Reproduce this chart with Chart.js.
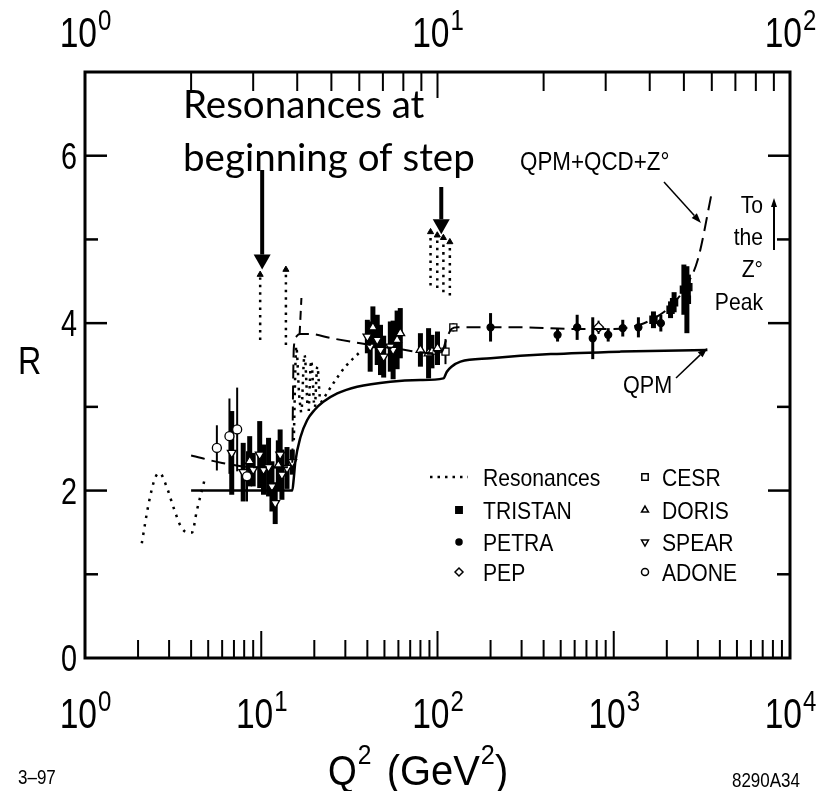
<!DOCTYPE html>
<html lang="en">
<head>
<meta charset="UTF-8">
<title>R ratio versus Q2</title>
<script src="https://cdn.jsdelivr.net/npm/chart.js"></script>
<style>
    html, body { margin: 0; padding: 0; background: #fff; }
    .wrap { position: relative; width: 827px; height: 791px; }
</style>
</head>
<body>
<div class="wrap"><canvas id="rChart"></canvas></div>
<script>
// ---- axis ranges / tick labels ----
const xRange = [1, 10000];          // Q^2 (GeV^2), bottom axis
const topRange = [1, 100];          // sqrt(s) (GeV), top axis
const yRange = [0, 7];
const xTickExp = [0, 1, 2, 3, 4];
const topTickExp = [0, 1, 2];
const yTickLabels = [0, 2, 4, 6];

// ---- curves: Q^2 and R ----
const qpmQ2 = [4, 15, 15.3, 15.6, 16.7, 18.2, 20, 22.5, 27, 35, 54, 80, 108, 113, 120, 135, 200, 440, 1100, 3400];
const qpmR  = [2.0, 2.0, 2.15, 2.34, 2.64, 2.84, 2.96, 3.06, 3.16, 3.24, 3.30, 3.32, 3.34, 3.42, 3.48, 3.54, 3.58, 3.63, 3.66, 3.68];

const qcdQ2 = [4, 6, 9, 14, 15, 15.05, 15.15, 15.3, 15.8, 16.6, 19, 25, 36.5, 60, 95, 106, 112, 120, 130, 300, 600, 1000, 1400, 1700, 2100, 2500, 3000, 3600];
const qcdR  = [2.42, 2.33, 2.28, 2.28, 2.32, 2.6, 3.2, 3.7, 3.84, 3.87, 3.87, 3.82, 3.76, 3.69, 3.64, 3.66, 3.8, 3.93, 3.95, 3.95, 3.93, 3.93, 3.98, 4.06, 4.2, 4.4, 4.76, 5.56];

const charmSpikeQ2 = [16.5, 16.9];
const charmSpikeR  = [3.86, 4.3];

// resonances (dotted)
const lowResQ2 = [2.1, 2.3, 2.5, 2.65, 2.9, 3.2, 3.5, 3.8, 4.05, 4.3, 4.6, 4.8];
const lowResR  = [1.37, 1.85, 2.15, 2.21, 2.05, 1.78, 1.57, 1.5, 1.5, 1.75, 2.0, 2.15];

const charmResQ2 = [
    [15.3, 15.8, 16.4, 16.9],
    [17.0, 17.6, 18.3],
    [18.6, 19.2, 19.9],
    [20.2, 20.8, 21.5],
    [21.8, 26, 30, 36.5]
];
const charmResR = [
    [2.6, 3.72, 3.15, 2.9],
    [3.0, 3.62, 3.0],
    [2.95, 3.55, 3.05],
    [3.0, 3.48, 3.1],
    [3.05, 3.3, 3.48, 3.66]
];

// narrow resonances drawn as dotted spikes with arrow heads
const spikeQ2  = [9.86, 13.8, 91.3, 99.7, 108, 117.5];
const spikeLow = [3.80, 3.74, 4.45, 4.42, 4.37, 4.33];
const spikeTop = [4.58, 4.64, 5.09, 5.05, 5.02, 4.97];

// ---- measurements: [Q^2, R, error] ----
const adone   = [[5.6, 2.51, 0.27], [6.6, 2.65, 0.45], [7.3, 2.73, 0.5], [8.3, 2.17, 0.3]];
const spear   = [[6.8, 2.45, 0.5], [7.9, 2.22, 0.35], [9.0, 2.25, 0.2], [9.8, 2.43, 0.4], [10.3, 2.25, 0.3],
                 [11.0, 2.28, 0.35], [11.5, 2.05, 0.3], [12.0, 1.85, 0.25], [12.8, 2.43, 0.3], [13.1, 2.19, 0.3],
                 [14.0, 2.27, 0.25], [15.0, 2.34, 0.15], [40, 3.84, 0.2], [41.5, 3.72, 0.3], [45.5, 3.80, 0.3],
                 [47.5, 3.68, 0.3], [49.5, 3.60, 0.25], [54, 3.72, 0.3], [56, 3.68, 0.35]];
const doris   = [[8.6, 2.35, 0.3], [12.5, 2.3, 0.3], [43, 3.95, 0.25], [59, 3.80, 0.35], [61.5, 3.88, 0.3],
                 [80, 3.68, 0.2], [89, 3.64, 0.3], [93, 3.66, 0.2], [100, 3.7, 0.2]];
const cesr    = [[111, 3.66, 0.15], [123, 3.95, 0.05]];
const petra   = [[200, 3.95, 0.17], [480, 3.86, 0.08], [620, 3.95, 0.15], [760, 3.82, 0.25], [930, 3.86, 0.08],
                 [1125, 3.94, 0.1], [1380, 3.95, 0.12], [1850, 4.0, 0.1]];
const pep     = [[820, 3.95, 0.08]];
const tristan = [[1680, 4.04, 0.1], [2100, 4.16, 0.1], [2200, 4.25, 0.12], [2500, 4.40, 0.3], [2600, 4.28, 0.4], [2650, 4.43, 0.15]];

const legendCol1 = ['Resonances', 'TRISTAN', 'PETRA', 'PEP'];
const legendCol2 = ['CESR', 'DORIS', 'SPEAR', 'ADONE'];

// ---- helpers ----
const FONT = '"Liberation Sans", Arial, sans-serif';
const zip = (xs, ys) => xs.map((x, i) => ({ x: x, y: ys[i] }));
const pts = rows => rows.map(r => ({ x: r[0], y: r[1], e: r[2] }));

function curve(xs, ys, dash, width) {
    return {
        data: zip(xs, ys), showLine: true, pointRadius: 0, borderColor: '#000',
        borderWidth: width || 2, borderDash: dash || [], fill: false,
        cubicInterpolationMode: 'monotone'
    };
}
function points(rows, style, filled, radius, rot, errW) {
    return {
        data: pts(rows), showLine: false, pointStyle: style, pointRadius: radius,
        pointRotation: rot || 0, pointBackgroundColor: filled ? '#000' : '#fff',
        pointBorderColor: '#000', pointBorderWidth: 1.3, errW: errW
    };
}

const datasets = [];
datasets.push(curve(qpmQ2, qpmR, [], 2.5));
datasets.push(curve(qcdQ2, qcdR, [14, 7], 2));
datasets.push(curve(charmSpikeQ2, charmSpikeR, [9, 6], 2));
datasets.push(curve(lowResQ2, lowResR, [2.5, 6], 2.5));
charmResQ2.forEach((q, i) => datasets.push(curve(q, charmResR[i], [2.5, 5], 2.5)));
spikeQ2.forEach((q, i) => datasets.push(curve([q, q], [spikeLow[i], spikeTop[i]], [2.5, 5], 2.5)));
datasets.push({
    data: zip(spikeQ2, spikeTop), showLine: false, pointStyle: 'triangle',
    pointRadius: 3.5, pointBackgroundColor: '#000', pointBorderColor: '#000'
});
datasets.push(points(adone, 'circle', false, 4.5, 0, 2));
datasets.push(points(spear, 'triangle', false, 5, 180, 5));
datasets.push(points(doris, 'triangle', false, 5, 0, 5));
datasets.push(points(cesr, 'rect', false, 5, 0, 2));
datasets.push(points(petra, 'circle', true, 3.5, 0, 3));
datasets.push(points(pep, 'rectRot', false, 5, 0, 2));
datasets.push(points(tristan, 'rect', true, 5, 0, 5));

function txt(ctx, s, x, y, size, align, sx) {
    sx = sx || 0.85;
    ctx.save();
    ctx.font = size + 'px ' + FONT;
    const w = ctx.measureText(s).width * sx;
    const x0 = align === 'center' ? x - w / 2 : align === 'right' ? x - w : x;
    ctx.translate(x0, y);
    ctx.scale(sx, 1);
    ctx.textAlign = 'left';
    ctx.textBaseline = 'alphabetic';
    ctx.fillStyle = '#000';
    ctx.fillText(s, 0, 0);
    ctx.restore();
    return w;
}
function measure(ctx, s, size, sx) {
    ctx.save();
    ctx.font = size + 'px ' + FONT;
    const w = ctx.measureText(s).width * (sx || 0.85);
    ctx.restore();
    return w;
}
// "10" with a raised exponent, centred on x
function powLabel(ctx, exp, x, y) {
    const w1 = measure(ctx, '10', 42, 0.8), w2 = measure(ctx, String(exp), 30, 0.8);
    const x0 = x - (w1 + w2) / 2;
    txt(ctx, '10', x0, y, 42, 'left', 0.8);
    txt(ctx, String(exp), x0 + w1 + 1, y - 17, 30, 'left', 0.8);
}
function line(ctx, x1, y1, x2, y2, w) {
    ctx.lineWidth = w;
    ctx.beginPath();
    ctx.moveTo(x1, y1);
    ctx.lineTo(x2, y2);
    ctx.stroke();
}
function arrow(ctx, x1, y1, x2, y2, w, headLen, headW) {
    const a = Math.atan2(y2 - y1, x2 - x1);
    const bx = x2 - headLen * Math.cos(a), by = y2 - headLen * Math.sin(a);
    line(ctx, x1, y1, bx, by, w);
    ctx.beginPath();
    ctx.moveTo(x2, y2);
    ctx.lineTo(bx + headW / 2 * Math.sin(a), by - headW / 2 * Math.cos(a));
    ctx.lineTo(bx - headW / 2 * Math.sin(a), by + headW / 2 * Math.cos(a));
    ctx.closePath();
    ctx.fill();
}

// error bars under the markers
const errorBars = {
    id: 'errorBars',
    beforeDatasetsDraw(chart) {
        const ctx = chart.ctx, xs = chart.scales.x, ys = chart.scales.y;
        ctx.save();
        ctx.strokeStyle = '#000';
        chart.data.datasets.forEach(ds => {
            if (!ds.errW) return;
            ds.data.forEach(p => {
                const px = xs.getPixelForValue(p.x);
                line(ctx, px, ys.getPixelForValue(p.y - p.e), px, ys.getPixelForValue(p.y + p.e), ds.errW);
            });
        });
        ctx.restore();
    }
};

// frame, ticks, labels, legend and notes
const decor = {
    id: 'decor',
    afterDraw(chart) {
        const ctx = chart.ctx, a = chart.chartArea;
        const xs = chart.scales.x, xt = chart.scales.x2, ys = chart.scales.y;
        ctx.save();
        ctx.strokeStyle = '#000';
        ctx.fillStyle = '#000';
        ctx.lineCap = 'butt';

        // frame
        ctx.lineWidth = 3;
        ctx.strokeRect(a.left, a.top, a.right - a.left, a.bottom - a.top);

        // bottom ticks (Q^2) and top ticks (sqrt s)
        for (let d = xRange[0]; d < xRange[1]; d *= 10) {
            for (let k = 1; k < 10; k++) {
                if (k === 1 && d === xRange[0]) continue;
                const px = xs.getPixelForValue(d * k);
                line(ctx, px, a.bottom, px, a.bottom - (k === 1 ? 27 : 18), 2);
            }
        }
        for (let d = topRange[0]; d < topRange[1]; d *= 10) {
            for (let k = 1; k < 10; k++) {
                if (k === 1 && d === topRange[0]) continue;
                const px = xt.getPixelForValue(d * k);
                line(ctx, px, a.top, px, a.top + (k === 1 ? 26 : 19), 2);
            }
        }
        // left / right ticks
        for (let v = yRange[0] + 1; v < yRange[1]; v++) {
            const py = ys.getPixelForValue(v);
            const len = v % 2 === 0 ? 22 : 13;
            line(ctx, a.left, py, a.left + len, py, 2.5);
            line(ctx, a.right, py, a.right - len, py, 2.5);
        }

        // tick labels
        xTickExp.forEach(e => powLabel(ctx, e, xs.getPixelForValue(Math.pow(10, e)), 728));
        topTickExp.forEach(e => powLabel(ctx, e, xt.getPixelForValue(Math.pow(10, e)), 47));
        yTickLabels.forEach(v => txt(ctx, String(v), a.left - 8, ys.getPixelForValue(v) + 13, 36, 'right', 0.8));

        // axis titles
        txt(ctx, 'R', 18, 374, 38, 'left', 0.85);
        let qx = 328;
        qx += txt(ctx, 'Q', qx, 785, 42, 'left', 0.88);
        txt(ctx, '2', qx + 1, 764, 28, 'left', 0.88);
        qx += 30;
        qx += txt(ctx, '(GeV', qx, 785, 42, 'left', 0.95);
        qx += txt(ctx, '2', qx + 1, 764, 28, 'left', 0.9) + 1;
        txt(ctx, ')', qx, 785, 42, 'left', 0.95);
        txt(ctx, '3\u201397', 18, 784, 20, 'left', 0.85);
        txt(ctx, '8290A34', 800, 787, 20, 'right', 0.85);

        // annotations
        ctx.save();
        ctx.font = '38.5px Lato, "Open Sans", sans-serif';
        ctx.textBaseline = 'alphabetic';
        ctx.fillText('Resonances at', 183, 118);
        ctx.fillText('beginning of step', 183, 171);
        ctx.restore();
        const px1 = xs.getPixelForValue(spikeQ2[0]);
        arrow(ctx, px1 + 2, 170, px1 + 2, ys.getPixelForValue(spikeTop[0]) - 5, 4, 15, 17);
        const px2 = xs.getPixelForValue(spikeQ2[3]);
        arrow(ctx, px2 + 4, 187, px2 + 4, ys.getPixelForValue(spikeTop[3]) - 1, 4, 15, 17);

        txt(ctx, 'QPM+QCD+Z\u00B0', 520, 170, 26, 'left', 0.86);
        arrow(ctx, 664, 182, 701, 223, 1.5, 10, 7);
        txt(ctx, 'QPM', 623, 393, 24, 'left', 0.9);
        arrow(ctx, 676, 378, xs.getPixelForValue(qpmQ2[qpmQ2.length - 1]), ys.getPixelForValue(qpmR[qpmR.length - 1]) - 2, 1.5, 10, 7);

        ['To', 'the', 'Z\u00B0', 'Peak'].forEach((s, i) => txt(ctx, s, 763, [213, 245, 277, 310][i], 24, 'right', 0.88));
        arrow(ctx, 774, 250, 774, 198, 2, 9, 6);

        // legend
        const rows = [477, 510, 542, 572];
        ctx.save();
        ctx.setLineDash([2.5, 5]);
        line(ctx, 430, rows[0], 468, rows[0], 2.5);
        ctx.restore();
        const styles = [null, ['rect', true, 4.5, 0], ['circle', true, 3, 0], ['rectRot', false, 4, 0]];
        const styles2 = [['rect', false, 4.5, 0], ['triangle', false, 4, 0], ['triangle', false, 4, 180], ['circle', false, 3.5, 0]];
        const mark = (st, x, y) => {
            ctx.save();
            ctx.fillStyle = st[1] ? '#000' : '#fff';
            ctx.strokeStyle = '#000';
            ctx.lineWidth = 1.5;
            Chart.helpers.drawPoint(ctx, { pointStyle: st[0], radius: st[2], rotation: st[3], borderWidth: 1.5 }, x, y);
            ctx.restore();
        };
        legendCol1.forEach((s, i) => {
            if (styles[i]) mark(styles[i], 459, rows[i]);
            txt(ctx, s, 483, rows[i] + 9, 24, 'left', 0.88);
        });
        legendCol2.forEach((s, i) => {
            mark(styles2[i], 645, rows[i]);
            txt(ctx, s, 662, rows[i] + 9, 24, 'left', 0.88);
        });
        ctx.restore();
    }
};

new Chart(document.getElementById('rChart'), {
    type: 'scatter',
    data: { datasets: datasets },
    options: {
        responsive: true,
        maintainAspectRatio: false,
        animation: false,
        events: [],
        layout: { padding: { left: 85, right: 37, top: 72, bottom: 133 } },
        plugins: { legend: { display: false }, tooltip: { enabled: false } },
        scales: {
            x: { type: 'logarithmic', min: xRange[0], max: xRange[1], display: false },
            x2: { type: 'logarithmic', position: 'top', min: topRange[0], max: topRange[1], display: false },
            y: { type: 'linear', min: yRange[0], max: yRange[1], display: false }
        }
    },
    plugins: [errorBars, decor]
});
</script>
</body>
</html>
